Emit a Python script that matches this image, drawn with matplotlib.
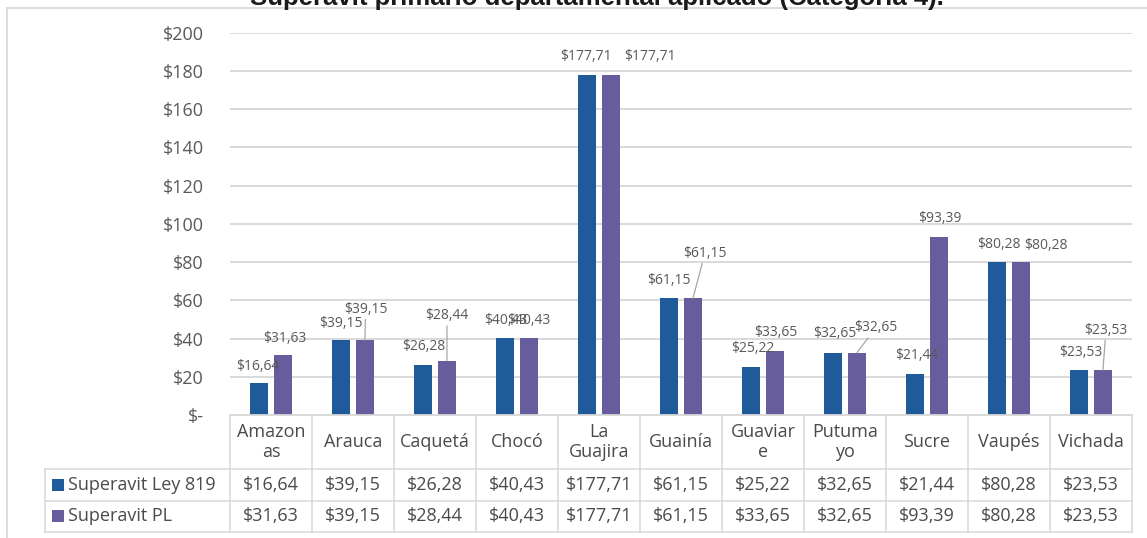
import numpy as np
import matplotlib
matplotlib.use("Agg")
import matplotlib.pyplot as plt
from matplotlib.lines import Line2D
from matplotlib.patches import Rectangle
from matplotlib.transforms import blended_transform_factory

# ---------------- data ----------------
title = "Superavit primario departamental aplicado (Categoría 4)."
categories = ["Amazonas", "Arauca", "Caquetá", "Chocó", "La Guajira", "Guainía",
              "Guaviare", "Putumayo", "Sucre", "Vaupés", "Vichada"]
cat_labels = ["Amazon\nas", "Arauca", "Caquetá", "Chocó", "La\nGuajira", "Guainía",
              "Guaviar\ne", "Putuma\nyo", "Sucre", "Vaupés", "Vichada"]
series_names = ["Superavit Ley 819", "Superavit PL"]
ley819 = [16.64, 39.15, 26.28, 40.43, 177.71, 61.15, 25.22, 32.65, 21.44, 80.28, 23.53]
pl = [31.63, 39.15, 28.44, 40.43, 177.71, 61.15, 33.65, 32.65, 93.39, 80.28, 23.53]
yticks = [0, 20, 40, 60, 80, 100, 120, 140, 160, 180, 200]

# ---------------- style ----------------
W, H = 1147, 538
BLUE = "#1F5B9A"
PURPLE = "#675D9C"
GRID = "#d9d9d9"
TXT = "#595959"
TTXT = "#4a4a4a"
FONT = ["Open Sans", "DejaVu Sans"]
plt.rcParams["font.family"] = FONT

# label offsets in pixels (dx, dy) relative to bar top
blue_off = [(-1, 17), (0, 17), (1, 18), (1, 17.5), (-1, 18.5), (0, 18),
            (2, 18.5), (2, 19), (2, 19), (2, 17), (2, 18)]
pl_off = [(1.5, 16.5), (0.5, 31), (0, 45), (0, 17.5), (39, 18.5), (12, 45),
          (1, 17.7), (19, 25), (1, 18), (25, 16), (3, 40)]
pl_leader = [False, True, True, False, False, True, False, True, False, False, True]

def fx(px):
    return px / W

def fy(py):
    return 1 - py / H

fig = plt.figure(figsize=(W / 100, H / 100), dpi=100)
fig.patch.set_facecolor("white")

ax_left, ax_right, ax_top, ax_bottom = 230, 1132, 32.8, 415
ax = fig.add_axes([fx(ax_left), fy(ax_bottom), (ax_right - ax_left) / W, (ax_bottom - ax_top) / H])

x = np.arange(len(categories))
off, bw = 0.146, 0.225
ax.bar(x - off, ley819, width=bw, color=BLUE, zorder=3)
ax.bar(x + off, pl, width=bw, color=PURPLE, zorder=3)

ax.set_xlim(-0.5, len(categories) - 0.5)
ax.set_ylim(0, 200)
ax.set_yticks(yticks)
ax.set_yticklabels(["$-" if v == 0 else f"${v}" for v in yticks])
ax.tick_params(axis="y", length=0, pad=19, labelsize=13, labelcolor=TXT)
ax.set_xticks([])
for s in ax.spines.values():
    s.set_visible(False)
ax.yaxis.grid(True, color=GRID, lw=1.4)
ax.set_axisbelow(True)

def fmt(v):
    return ("$%.2f" % v).replace(".", ",")

P2PT = 0.72
for i in range(len(categories)):
    dx, dy = blue_off[i]
    ax.annotate(fmt(ley819[i]), xy=(x[i] - off, ley819[i]), xytext=(dx * P2PT, dy * P2PT),
                textcoords="offset points", ha="center", va="center",
                fontsize=10, color=TXT, zorder=5)
    dx, dy = pl_off[i]
    ap = None
    if pl_leader[i]:
        ap = dict(arrowstyle="-", color="#a6a6a6", lw=0.9, shrinkA=0, shrinkB=0)
    ax.annotate(fmt(pl[i]), xy=(x[i] + off, pl[i]), xytext=(dx * P2PT, dy * P2PT),
                textcoords="offset points", ha="center", va="center",
                fontsize=10, color=TXT, zorder=5, arrowprops=ap)

# ---------------- data table ----------------
tcol = blended_transform_factory(ax.transData, fig.transFigure)
y_head_top, y_r1, y_r2, y_end = 415, 469, 500.5, 532
leg_left = 45

for b in np.arange(len(categories) + 1) - 0.5:
    fig.add_artist(Line2D([b, b], [fy(y_head_top), fy(y_end)], transform=tcol, color=GRID, lw=1.1))
fig.add_artist(Line2D([fx(ax_left), fx(ax_right)], [fy(y_head_top)] * 2,
                      transform=fig.transFigure, color=GRID, lw=1.3))
for yy in (y_r1, y_r2, y_end):
    fig.add_artist(Line2D([fx(leg_left), fx(ax_right)], [fy(yy)] * 2,
                          transform=fig.transFigure, color=GRID, lw=1.1))
fig.add_artist(Line2D([fx(leg_left)] * 2, [fy(y_r1), fy(y_end)],
                      transform=fig.transFigure, color=GRID, lw=1.1))

for i, lab in enumerate(cat_labels):
    fig.text(x[i], fy(442), lab, transform=tcol, ha="center", va="center",
             fontsize=13, color=TTXT, linespacing=1.08)
    fig.text(x[i], fy((y_r1 + y_r2) / 2), fmt(ley819[i]), transform=tcol, ha="center",
             va="center", fontsize=13, color=TTXT)
    fig.text(x[i], fy((y_r2 + y_end) / 2), fmt(pl[i]), transform=tcol, ha="center",
             va="center", fontsize=13, color=TTXT)

for (name, col, (ya, yb)) in zip(series_names, [BLUE, PURPLE], [(y_r1, y_r2), (y_r2, y_end)]):
    yc = (ya + yb) / 2
    fig.add_artist(Rectangle((fx(52), fy(yc + 6)), 12 / W, 12 / H, transform=fig.transFigure,
                             facecolor=col, edgecolor="none"))
    fig.text(fx(68), fy(yc), name, ha="left", va="center", fontsize=13, color=TTXT)

# outer frame (clipped at image edges)
fig.add_artist(Line2D([fx(7), fx(7)], [fy(8), 0], transform=fig.transFigure, color=GRID, lw=1.3))
fig.add_artist(Line2D([fx(7), 1], [fy(8), fy(8)], transform=fig.transFigure, color=GRID, lw=1.3))

# title (cut by the top edge as in the source)
fig.text(fx(597), fy(4.5), title, ha="center", va="baseline", fontsize=18.5,
         fontweight="bold", color="#1a1a1a", family=["Liberation Sans", "DejaVu Sans"])

fig.savefig("out.png", dpi=100)
